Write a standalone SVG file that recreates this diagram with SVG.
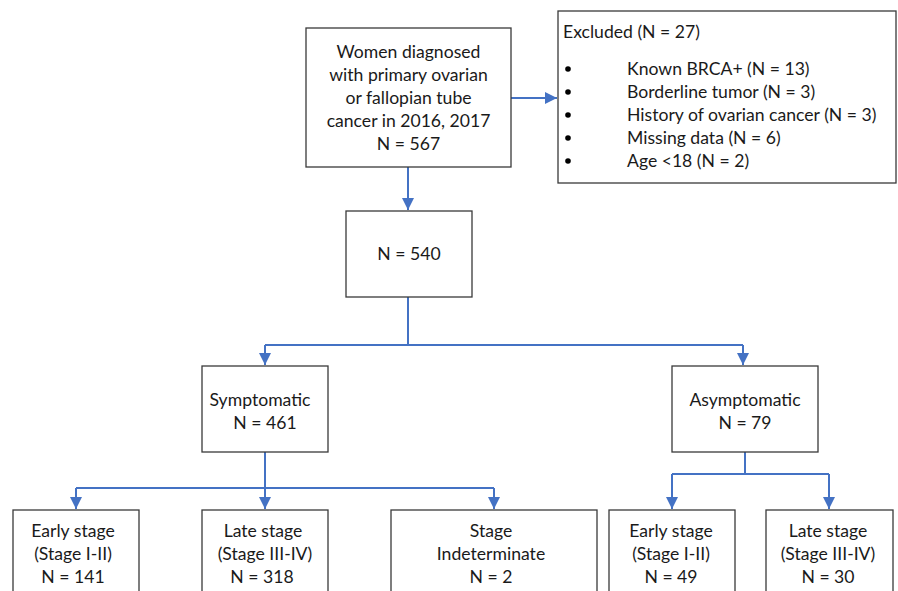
<svg xmlns="http://www.w3.org/2000/svg" width="898" height="591" viewBox="0 0 898 591">
<style>
.box{fill:#fff;stroke:#3a3a3a;stroke-width:1.3}
.t{font-family:Lato,"Liberation Sans",sans-serif;font-size:17.6px;fill:#1a1a1a;text-anchor:middle}
.l{text-anchor:start}
.c{fill:none;stroke:#4472C4;stroke-width:2}
</style>
<defs>
<marker id="a" viewBox="0 0 10 10" refX="10" refY="5" markerWidth="12" markerHeight="12" orient="auto" markerUnits="userSpaceOnUse">
<path d="M0,0 L10,5 L0,10 z" fill="#4472C4"/>
</marker>
</defs>
<rect width="898" height="591" fill="#fff"/>
<g id="connectors">
<path class="c" d="M511,98 H557" marker-end="url(#a)"/>
<path class="c" d="M408,167 V210" marker-end="url(#a)"/>
<path class="c" d="M408,297 V345"/>
<path class="c" d="M265,345 H743"/>
<path class="c" d="M265,345 V365" marker-end="url(#a)"/>
<path class="c" d="M743,345 V365" marker-end="url(#a)"/>
<path class="c" d="M265,452 V509" marker-end="url(#a)"/>
<path class="c" d="M76,488 H494"/>
<path class="c" d="M76,488 V509" marker-end="url(#a)"/>
<path class="c" d="M494,488 V509" marker-end="url(#a)"/>
<path class="c" d="M745,452 V474"/>
<path class="c" d="M672,474 H829"/>
<path class="c" d="M672,474 V509" marker-end="url(#a)"/>
<path class="c" d="M829,474 V509" marker-end="url(#a)"/>
</g>
<g id="n_women">
<rect class="box" x="306" y="28" width="205" height="139"/>
<text class="t" x="408.5" y="58">Women diagnosed</text>
<text class="t" x="408.5" y="81">with primary ovarian</text>
<text class="t" x="408.5" y="104">or fallopian tube</text>
<text class="t" x="408.5" y="127">cancer in 2016, 2017</text>
<text class="t" x="408.5" y="150">N = 567</text>
</g>
<g id="n_excluded">
<rect class="box" x="558" y="11" width="338" height="172"/>
<text class="t l" x="563" y="38">Excluded (N = 27)</text>
<g fill="#000">
<circle cx="568" cy="69" r="2.8"/>
<circle cx="568" cy="92" r="2.8"/>
<circle cx="568" cy="115" r="2.8"/>
<circle cx="568" cy="138" r="2.8"/>
<circle cx="568" cy="161" r="2.8"/>
</g>
<text class="t l" x="627" y="75">Known BRCA+ (N = 13)</text>
<text class="t l" x="627" y="98">Borderline tumor (N = 3)</text>
<text class="t l" x="627" y="121">History of ovarian cancer (N = 3)</text>
<text class="t l" x="627" y="144">Missing data (N = 6)</text>
<text class="t l" x="627" y="167">Age &lt;18 (N = 2)</text>
</g>
<g id="n_540">
<rect class="box" x="346" y="211" width="126" height="86"/>
<text class="t" x="409" y="260">N = 540</text>
</g>
<g id="n_symptomatic">
<rect class="box" x="202" y="366" width="126" height="86"/>
<text class="t" x="260" y="406">Symptomatic</text>
<text class="t" x="265" y="429">N = 461</text>
</g>
<g id="n_asymptomatic">
<rect class="box" x="672" y="366" width="146" height="86"/>
<text class="t" x="745" y="406">Asymptomatic</text>
<text class="t" x="745" y="429">N = 79</text>
</g>
<g id="n_sym_early">
<rect class="box" x="13" y="510" width="126" height="90"/>
<text class="t" x="73" y="537">Early stage</text>
<text class="t" x="73" y="560">(Stage I-II)</text>
<text class="t" x="73" y="583">N = 141</text>
</g>
<g id="n_sym_late">
<rect class="box" x="202" y="510" width="126" height="90"/>
<text class="t" x="263" y="537">Late stage</text>
<text class="t" x="265" y="560">(Stage III-IV)</text>
<text class="t" x="262" y="583">N = 318</text>
</g>
<g id="n_sym_indet">
<rect class="box" x="391" y="510" width="206" height="90"/>
<text class="t" x="491" y="537">Stage</text>
<text class="t" x="491" y="560">Indeterminate</text>
<text class="t" x="491" y="583">N = 2</text>
</g>
<g id="n_asym_early">
<rect class="box" x="609" y="510" width="126" height="90"/>
<text class="t" x="671" y="537">Early stage</text>
<text class="t" x="671" y="560">(Stage I-II)</text>
<text class="t" x="671" y="583">N = 49</text>
</g>
<g id="n_asym_late">
<rect class="box" x="766" y="510" width="127" height="90"/>
<text class="t" x="828" y="537">Late stage</text>
<text class="t" x="828" y="560">(Stage III-IV)</text>
<text class="t" x="828" y="583">N = 30</text>
</g>
</svg>
